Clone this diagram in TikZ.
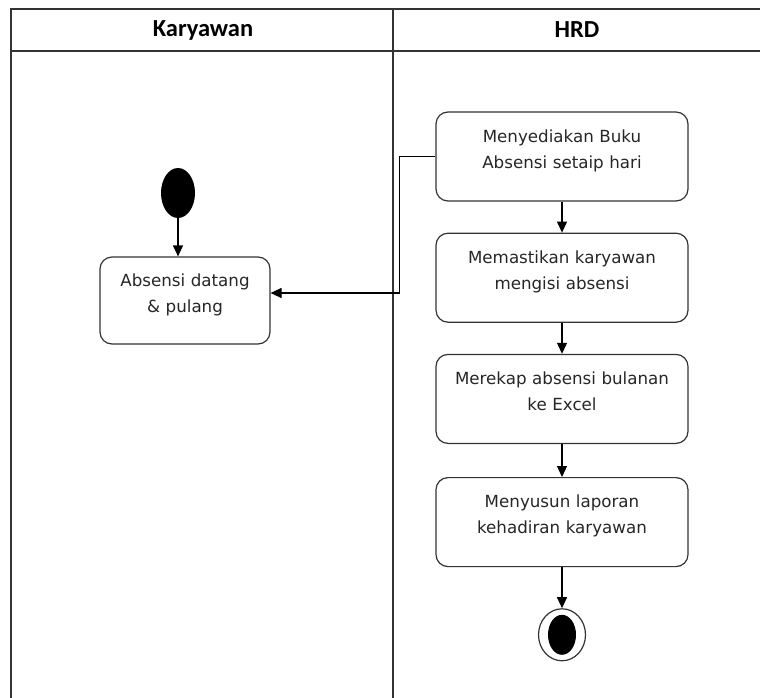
\documentclass[tikz,border=0pt]{standalone}
\usepackage{fontspec}
\setmainfont{DejaVu Sans}
\newfontfamily\headfont{Carlito}
\usetikzlibrary{shapes.geometric, arrows.meta, positioning}
\tikzset{
    lane/.style={line width=1.3pt, draw=black!80},
    lanetitle/.style={font=\headfont\bfseries\fontsize{24.5}{26}\selectfont, text=black},
    activity/.style={rectangle, rounded corners=12pt, minimum width=252pt, minimum height=89pt, text width=246pt, align=center, inner sep=0pt, draw=black!80, line width=1.2pt, text=black!85, font=\fontsize{16.7}{26}\selectfont, execute at end node={\rule[-15pt]{0pt}{15pt}}},
    startnode/.style={ellipse, fill=black, minimum width=34pt, minimum height=50pt, inner sep=0pt},
    endnode/.style={ellipse, draw=black!80, line width=1.2pt, fill=white, minimum width=47pt, minimum height=52pt, inner sep=0pt},
    endcore/.style={ellipse, fill=black, minimum width=28pt, minimum height=40pt, inner sep=0pt},
    arrow/.style={line width=1.2pt, draw=black, -{Triangle[length=11pt,width=10pt]}},
}

\begin{document}
\begin{tikzpicture}[x=1pt, y=-1pt, node distance=31pt]
    \useasboundingbox (0,0) rectangle (760,698);

    % swimlanes
    \draw [lane] (760,9) -- (11,9) -- (11,698);
    \draw [lane] (11,51) -- (760,51);
    \draw [lane] (393,9) -- (393,698);
    \node [lanetitle] (karyawan) at (203,30) {Karyawan};
    \node [lanetitle] (hrd) at (577,30) {HRD};

    % Karyawan
    \node [startnode] (start) at (178,193) {};
    \node [activity, minimum width=170pt, text width=166pt, minimum height=87pt] (absen) at (185,300.5) {Absensi datang\\ \& pulang};

    % HRD
    \node [activity] (sedia) at (562,156.5) {Menyediakan Buku\\ Absensi setaip hari};
    \node [activity, below=of sedia] (pastikan) {Memastikan karyawan\\ mengisi absensi};
    \node [activity, below=of pastikan] (rekap) {Merekap absensi bulanan\\ ke Excel};
    \node [activity, below=33pt of rekap] (lapor) {Menyusun laporan\\ kehadiran karyawan};
    \node [endnode, below=41pt of lapor] (finish) {};
    \node [endcore] (finishcore) at (finish) {};

    \draw [arrow] (start) -- (start |- absen.north);
    \draw [arrow] (sedia.west) -- ++(-36,0) |- ([yshift=7.5pt]absen.east);
    \draw [arrow] (sedia) -- (pastikan);
    \draw [arrow] (pastikan) -- (rekap);
    \draw [arrow] (rekap) -- (lapor);
    \draw [arrow] (lapor) -- (finish);
\end{tikzpicture}
\end{document}
